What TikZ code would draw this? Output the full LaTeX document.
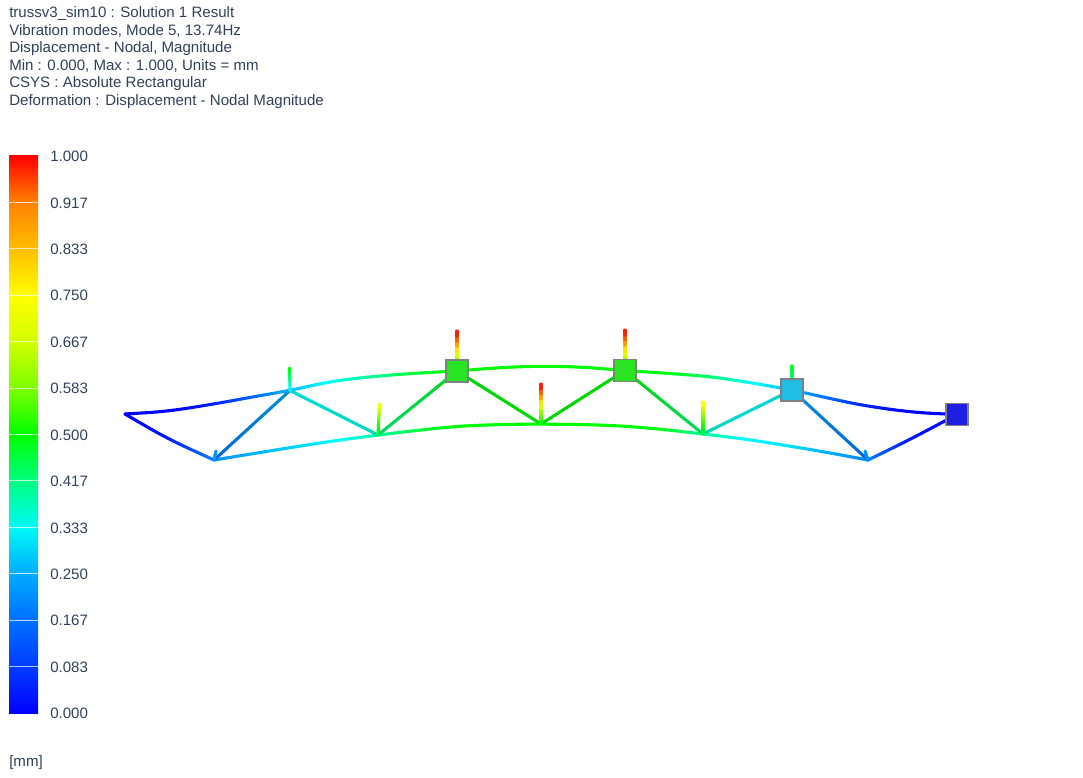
\documentclass[tikz,border=0pt]{standalone}
\usepackage{fontspec}
\setmainfont{Liberation Sans}
\usetikzlibrary{calc}
\definecolor{txtc}{RGB}{48,64,92}
\definecolor{lev0}{RGB}{0,0,255}
\definecolor{lev1}{RGB}{0,60,255}
\definecolor{lev2}{RGB}{0,112,255}
\definecolor{lev3}{RGB}{0,172,255}
\definecolor{lev4}{RGB}{0,250,245}
\definecolor{lev5}{RGB}{0,255,128}
\definecolor{lev6}{RGB}{0,255,0}
\definecolor{lev7}{RGB}{125,255,0}
\definecolor{lev8}{RGB}{210,255,0}
\definecolor{lev9}{RGB}{255,255,0}
\definecolor{lev10}{RGB}{255,190,0}
\definecolor{lev11}{RGB}{255,130,0}
\definecolor{lev12}{RGB}{255,0,0}
\def\bright{1}
% one straight member, hue running from #3 to #4
\newcommand{\member}[4]{%
  \foreach \k in {1,...,8} {%
    \pgfmathsetmacro{\hh}{#3+(#4-#3)*(\k-0.5)/8}
    \pgfmathsetmacro{\ta}{(\k-1)/8}
    \pgfmathsetmacro{\tb}{\k/8}
    \definecolor{segc}{Hsb}{\hh,1,\bright}
    \draw[bar, segc] ($(#1)!\ta!(#2)$) -- ($(#1)!\tb!(#2)$);
  }%
}
% one span of a bent chord round the point #2, hues #4 #5 #6 at #1 #2 #3
\newcommand{\bent}[6]{%
  \coordinate (m1) at ($(#1)!0.5!(#2)$);
  \coordinate (m2) at ($(#2)!0.5!(#3)$);
  \foreach \k in {1,...,8} {%
    \pgfmathsetmacro{\hh}{\k<5 ? (#4+#5)/2+(#5-#4)*(\k-0.5)/8 : #5+(#6-#5)*(\k-4.5)/8}
    \pgfmathsetmacro{\ta}{(\k-1)/8}
    \pgfmathsetmacro{\tb}{\k/8}
    \definecolor{segc}{Hsb}{\hh,1,1}
    \draw[bar, segc] ($($(m1)!\ta!(#2)$)!\ta!($(#2)!\ta!(m2)$)$)
      -- ($($(m1)!\tb!(#2)$)!\tb!($(#2)!\tb!(m2)$)$);
  }%
}
\begin{document}
\begin{tikzpicture}[x=0.75pt, y=-0.75pt]
  \tikzstyle{bar}=[line width=2.3pt, line cap=round]
  \tikzstyle{txt}=[inner sep=0pt, text=txtc, font=\fontsize{11.3pt}{13.1pt}\selectfont]
  \tikzstyle{support}=[draw=black!50, line width=0.8pt, minimum size=16.5pt, inner sep=0pt]
  \tikzstyle{tick}=[white, opacity=0.7, line width=0.7pt]
  \useasboundingbox (0, 0) rectangle (1083, 778);

  \node[txt, anchor=north west, align=left] (title) at (9, 6.5) {trussv3\_sim10 : Solution 1 Result\\
    Vibration modes, Mode 5, 13.74Hz\\
    Displacement - Nodal, Magnitude\\
    Min : 0.000, Max : 1.000, Units = mm\\
    CSYS : Absolute Rectangular\\
    Deformation : Displacement - Nodal Magnitude};

  % colour bar
  \foreach \i/\j in {0/1, 1/2, 2/3, 3/4, 4/5, 5/6, 6/7, 7/8, 8/9, 9/10, 10/11, 11/12} {
    \fill[top color=lev\j, bottom color=lev\i] (9, {713-46.42*\j}) rectangle (38, {713-46.42*\i});
  }
  \foreach \i in {1,...,11} {
    \draw[tick] (9, {713-46.42*\i}) -- (38, {713-46.42*\i});
  }
  \foreach \i/\val in {0/0.000, 1/0.083, 2/0.167, 3/0.250, 4/0.333, 5/0.417, 6/0.500,
                       7/0.583, 8/0.667, 9/0.750, 10/0.833, 11/0.917, 12/1.000} {
    \node[txt, anchor=west] (lab\i) at (50, {713.5-46.42*\i}) {\val};
  }
  \node[txt, anchor=west] (unit) at (9, 763) {[mm]};

  % truss joints
  \coordinate (a1) at (125, 414);
  \coordinate (t1) at (290, 390.5);
  \coordinate (t2) at (457, 371);
  \coordinate (t3) at (541, 366);
  \coordinate (t4) at (625, 370.5);
  \coordinate (t5) at (792, 390);
  \coordinate (a2) at (957, 414.5);
  \coordinate (l1) at (214, 460);
  \coordinate (b2) at (378, 435);
  \coordinate (b3) at (541, 424);
  \coordinate (b4) at (703, 434);
  \coordinate (l2) at (868, 460);
  % points along the bent chords
  \coordinate (p1) at (167, 411.5);
  \coordinate (p2) at (217, 403.5);
  \coordinate (p3) at (255, 396.5);
  \coordinate (p4) at (330, 381.5);
  \coordinate (p5) at (367, 377);
  \coordinate (p6) at (410, 373.5);
  \coordinate (p7) at (500, 367.5);
  \coordinate (p8) at (582, 367);
  \coordinate (p9) at (670, 373.5);
  \coordinate (p10) at (710, 376.5);
  \coordinate (p11) at (750, 382.5);
  \coordinate (p12) at (830, 398.5);
  \coordinate (p13) at (863, 405.5);
  \coordinate (p14) at (913, 412.5);
  \coordinate (q1) at (300, 446);
  \coordinate (q2) at (340, 440);
  \coordinate (q3) at (420, 430);
  \coordinate (q4) at (460, 426);
  \coordinate (q5) at (500, 424.5);
  \coordinate (q6) at (610, 425);
  \coordinate (q7) at (660, 429);
  \coordinate (q8) at (745, 439);
  \coordinate (q9) at (783, 445);
  \coordinate (q10) at (825, 452);
  \coordinate (r1) at (167, 438.5);
  \coordinate (r2) at (910, 439.5);
  % free ends of the short uprights
  \coordinate (s1) at (289.5, 368);
  \coordinate (s2) at (379.5, 404);
  \coordinate (s3) at (457, 331);
  \coordinate (s4) at (541, 384);
  \coordinate (s5) at (625, 330);
  \coordinate (s6) at (703, 402);
  \coordinate (s7) at (792, 366);
  \coordinate (s8) at (216, 451);
  \coordinate (s9) at (865, 451);

  \foreach \src/\via/\dst/\hsrc/\hvia/\hdst in {a1/a1/p1/240/240/240, a1/p1/p2/240/240/232, p1/p2/p3/240/232/215,
      p2/p3/t1/232/215/197, p3/t1/p4/215/197/178, t1/p4/p5/197/178/158, p4/p5/p6/178/158/135,
      p5/p6/t2/158/135/120, p6/t2/p7/135/120/120, t2/p7/t3/120/120/120, p7/t3/p8/120/120/120,
      t3/p8/t4/120/120/120, p8/t4/p9/120/120/125, t4/p9/p10/120/125/145, p9/p10/p11/125/145/178,
      p10/p11/t5/145/178/197, p11/t5/p12/178/197/215, t5/p12/p13/197/215/232, p12/p13/p14/215/232/240,
      p13/p14/a2/232/240/240, p14/a2/a2/240/240/240,
      a1/a1/r1/240/240/235, a1/r1/l1/240/235/212, r1/l1/l1/235/212/212,
      l1/l1/q1/205/205/190, l1/q1/q2/205/190/180, q1/q2/b2/190/180/158, q2/b2/q3/180/158/135,
      b2/q3/q4/158/135/120, q3/q4/q5/135/120/120, q4/q5/b3/120/120/120, q5/b3/q6/120/120/120,
      b3/q6/q7/120/120/125, q6/q7/b4/120/125/155, q7/b4/q8/125/155/180, b4/q8/q9/155/180/185,
      q8/q9/q10/180/185/198, q9/q10/l2/185/198/208, q10/l2/l2/198/208/208,
      l2/l2/r2/212/212/235, l2/r2/a2/212/235/240, r2/a2/a2/235/240/240} {
    \bent{\src}{\via}{\dst}{\hsrc}{\hvia}{\hdst}
  }

  \def\bright{0.85}
  \foreach \src/\dst/\hsrc/\hdst in {t1/l1/200/212, t1/b2/180/172, b2/t2/150/125, t2/b3/120/120,
                                     b3/t4/120/120, t4/b4/120/148, b4/t5/170/185, t5/l2/200/212} {
    \member{\src}{\dst}{\hsrc}{\hdst}
  }
  \def\bright{1}
  \foreach \src/\dst/\hsrc/\hdst in {t1/s1/185/120, b2/s2/140/58, t2/s3/120/0, b3/s4/125/0,
                                     t4/s5/120/0, b4/s6/140/55, t5/s7/170/125,
                                     l1/s8/205/205, l2/s9/205/205} {
    \member{\src}{\dst}{\hsrc}{\hdst}
  }

  % constrained joints
  \node[support, fill={rgb,255:red,40;green,228;blue,36}] (n2) at (457, 371) {};
  \node[support, fill={rgb,255:red,42;green,228;blue,32}] (n4) at (625, 370.5) {};
  \node[support, fill={rgb,255:red,32;green,190;blue,228}] (n5) at (792, 390) {};
  \node[support, fill={rgb,255:red,32;green,32;blue,228}] (n6) at (957, 414.5) {};
\end{tikzpicture}
\end{document}
